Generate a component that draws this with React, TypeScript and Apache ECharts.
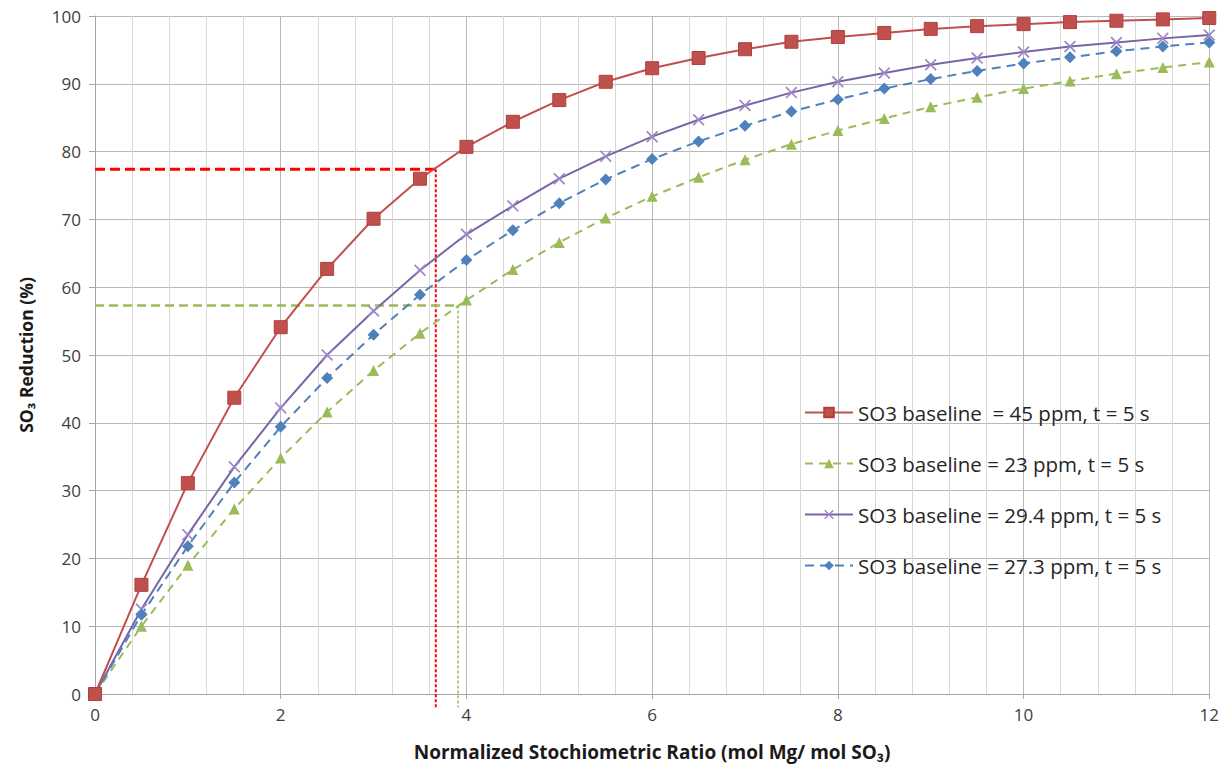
import React, { useEffect, useRef } from "react";
import * as echarts from "echarts";

const xValues = [0, 0.5, 1, 1.5, 2, 2.5, 3, 3.5, 4, 4.5, 5, 5.5, 6, 6.5, 7, 7.5, 8, 8.5, 9, 9.5, 10, 10.5, 11, 11.5, 12];
const red45 = [0, 16.1, 31.1, 43.7, 54.1, 62.7, 70.1, 76.0, 80.7, 84.4, 87.6, 90.3, 92.3, 93.8, 95.1, 96.2, 96.9, 97.5, 98.1, 98.5, 98.8, 99.1, 99.3, 99.5, 99.7];
const green23 = [0, 10, 19, 27.3, 34.8, 41.6, 47.7, 53.2, 58.1, 62.6, 66.6, 70.2, 73.4, 76.2, 78.8, 81.1, 83.1, 84.9, 86.6, 88, 89.3, 90.4, 91.5, 92.4, 93.2];
const purple294 = [0, 12.5, 23.5, 33.5, 42.2, 50, 56.5, 62.5, 67.8, 72, 76, 79.3, 82.2, 84.7, 86.8, 88.7, 90.3, 91.6, 92.8, 93.8, 94.7, 95.5, 96.1, 96.7, 97.2];
const blue273 = [0, 11.7, 21.8, 31.2, 39.4, 46.6, 53, 58.9, 64, 68.4, 72.4, 75.9, 78.9, 81.5, 83.8, 85.9, 87.7, 89.3, 90.7, 91.9, 93, 93.9, 94.8, 95.5, 96.1];

const seriesNames = [
  "SO3 baseline  = 45 ppm, t = 5 s",
  "SO3 baseline = 23 ppm, t = 5 s",
  "SO3 baseline = 29.4 ppm, t = 5 s",
  "SO3 baseline = 27.3 ppm, t = 5 s",
];

// reference guide lines
const redGuideH = [[0, 77.4], [3.67, 77.4]];
const redGuideV = [[3.67, 77.4], [3.67, -2]];
const greenGuideH = [[0, 57.3], [3.91, 57.3]];
const greenGuideV = [[3.91, 57.3], [3.91, -2]];

const xName = "Normalized Stochiometric Ratio (mol Mg/ mol SO₃)";
const yName = "SO₃ Reduction (%)";

const FONT = "'Open Sans', 'Noto Sans', sans-serif";

const pair = (ys: number[]) => xValues.map((x, i) => [x, ys[i]]);

const crossPath =
  "path://M0,1 L1,0 L5,4 L9,0 L10,1 L6,5 L10,9 L9,10 L5,6 L1,10 L0,9 L4,5 Z";

export default function App() {
  const ref = useRef<HTMLDivElement>(null);
  useEffect(() => {
    if (!ref.current) return;
    const chart = echarts.init(ref.current, undefined, { renderer: "svg" });
    const guide = (data: number[][], color: string, width: number, type: any) => ({
      type: "line",
      data,
      symbol: "none",
      silent: true,
      clip: false,
      z: 1,
      lineStyle: { color, width, type },
      tooltip: { show: false },
    });
    chart.setOption({
      animation: false,
      backgroundColor: "#ffffff",
      textStyle: { fontFamily: FONT },
      grid: { left: 95, right: 12, top: 16, bottom: 74, containLabel: false },
      legend: {
        data: seriesNames,
        orient: "vertical",
        left: 799,
        top: 397,
        itemWidth: 48,
        itemHeight: 12,
        itemGap: 30,
        textStyle: { fontSize: 20.5, color: "#262626", fontFamily: FONT },
      },
      xAxis: {
        type: "value",
        min: 0,
        max: 12,
        interval: 2,
        name: xName,
        nameLocation: "middle",
        nameGap: 48,
        nameTextStyle: { fontSize: 19, fontWeight: "bold", color: "#1a1a1a", fontFamily: FONT },
        axisLine: { show: true, lineStyle: { color: "#a6a6a6", width: 1 } },
        axisTick: { show: true, length: 5, lineStyle: { color: "#a6a6a6" } },
        axisLabel: { fontSize: 17, color: "#404040", margin: 12 },
        splitLine: { show: true, lineStyle: { color: "#b8b8b8", width: 1 } },
        minorTick: { show: false, splitNumber: 5 },
        minorSplitLine: { show: true, lineStyle: { color: "#d9d9d9", width: 1 } },
      },
      yAxis: {
        type: "value",
        min: 0,
        max: 100,
        interval: 10,
        name: yName,
        nameLocation: "middle",
        nameGap: 60,
        nameRotate: 90,
        nameTextStyle: { fontSize: 17.5, fontWeight: "bold", color: "#1a1a1a", fontFamily: FONT },
        axisLine: { show: true, lineStyle: { color: "#a6a6a6", width: 1 } },
        axisTick: { show: true, length: 6, lineStyle: { color: "#a6a6a6" } },
        axisLabel: { fontSize: 17, color: "#404040", margin: 14 },
        splitLine: { show: true, lineStyle: { color: "#b8b8b8", width: 1 } },
      },
      series: [
        guide(redGuideH, "#ff0000", 3, [10, 5]),
        guide(redGuideV, "#ff0000", 2, [3, 2]),
        guide(greenGuideH, "#9bbb59", 2.5, [9, 5]),
        guide(greenGuideV, "#9bbb59", 1.5, [3, 2]),
        {
          name: seriesNames[0],
          type: "line",
          data: pair(red45),
          symbol: "rect",
          symbolSize: 13,
          z: 5,
          lineStyle: { color: "#c0504d", width: 2 },
          itemStyle: { color: "#c0504d", borderColor: "#b0403d", borderWidth: 1 },
        },
        {
          name: seriesNames[1],
          type: "line",
          data: pair(green23),
          symbol: "triangle",
          symbolSize: 11,
          z: 3,
          lineStyle: { color: "#9bbb59", width: 2, type: [8, 6] },
          itemStyle: { color: "#9bbb59" },
        },
        {
          name: seriesNames[2],
          type: "line",
          data: pair(purple294),
          symbol: crossPath,
          symbolSize: 12,
          z: 4,
          lineStyle: { color: "#7b63a8", width: 2 },
          itemStyle: { color: "#9b86c4" },
        },
        {
          name: seriesNames[3],
          type: "line",
          data: pair(blue273),
          symbol: "diamond",
          symbolSize: 12,
          z: 4,
          lineStyle: { color: "#4f81bd", width: 2, type: [9, 6] },
          itemStyle: { color: "#4f81bd" },
        },
      ],
    });
    return () => chart.dispose();
  }, []);
  return (
    <div
      ref={ref}
      style={{ position: "fixed", left: 0, top: 0, width: 1222, height: 768, background: "#fff" }}
    />
  );
}
